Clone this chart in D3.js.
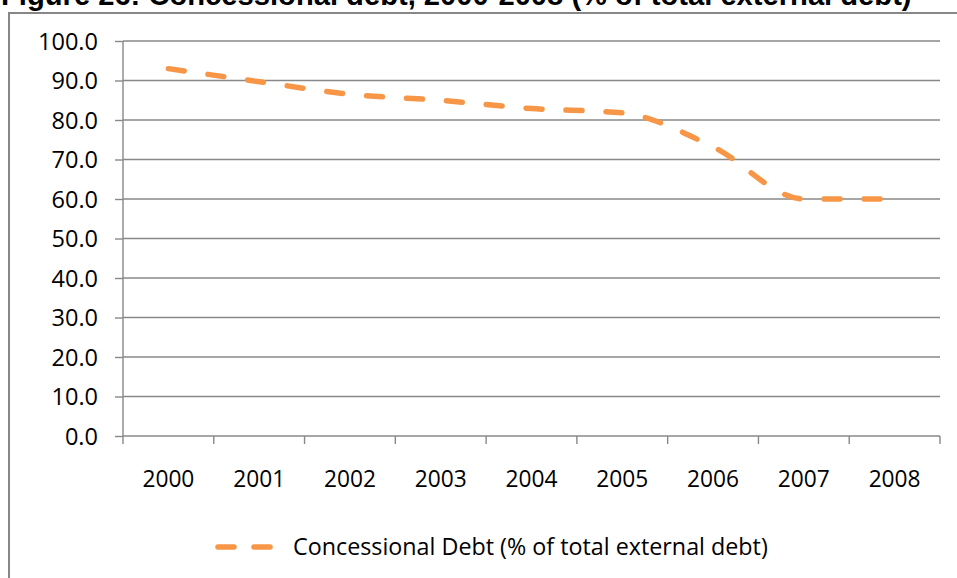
<!DOCTYPE html>
<html><head><meta charset="utf-8">
<script src="https://cdn.jsdelivr.net/npm/d3@7"></script>
<style>body{margin:0;background:#fff;overflow:hidden}svg{display:block}</style>
</head><body>
<script>
const titleText = "Figure 26: Concessional debt, 2000-2008 (% of total external debt)";
const years = ["2000","2001","2002","2003","2004","2005","2006","2007","2008"];
const concessional = [93.0, 89.7, 86.5, 85.0, 82.9, 81.8, 73.2, 60.0, 60.0];
const yTicks = [0,10,20,30,40,50,60,70,80,90,100];
const seriesName = "Concessional Debt (% of total external debt)";

const W = 957, H = 578;
const svg = d3.select("body").append("svg").attr("width", W).attr("height", H);
const font = "'Open Sans', 'Noto Sans', sans-serif";
const gridColor = "#888888";
const lineColor = "#F79646";

function fit(sel, target) {
  const n = sel.node();
  let fs = parseFloat(sel.attr("font-size"));
  const w = n.getComputedTextLength();
  sel.attr("font-size", (fs * target / w).toFixed(2));
}

// outer frame
svg.append("rect").attr("x", 9).attr("y", 13).attr("width", 1200).attr("height", 1200)
  .attr("fill", "none").attr("stroke", "#878787").attr("stroke-width", 2);

// title (clipped at the top edge as in the source)
const t = svg.append("text").attr("x", 1).attr("y", 4.5)
  .attr("font-family", "'Liberation Sans', Arial, sans-serif").attr("font-weight", "bold")
  .attr("font-size", 22).attr("fill", "#000").text(titleText);
fit(t, 911);

const m = {l: 123, r: 940, t: 41, b: 436};
const x = d3.scaleBand().domain(years).range([m.l, m.r]);
const y = d3.scaleLinear().domain([0, 100]).range([m.b, m.t]);

// gridlines
svg.append("g").selectAll("line").data(yTicks.filter(d => d > 0)).join("line")
  .attr("x1", m.l).attr("x2", m.r).attr("y1", d => y(d)).attr("y2", d => y(d))
  .attr("stroke", gridColor).attr("stroke-width", 1.4);

// y axis
const ya = svg.append("g").attr("transform", `translate(${m.l},0)`)
  .call(d3.axisLeft(y).tickValues(yTicks).tickFormat(d3.format(".1f")).tickSize(8).tickPadding(17));
ya.select(".domain").attr("stroke", gridColor).attr("stroke-width", 1.4).attr("d", `M0,${m.t}V${m.b}`);
ya.selectAll(".tick line").attr("stroke", gridColor).attr("stroke-width", 1.4);
ya.selectAll(".tick text").attr("font-family", font).attr("font-size", 22).attr("fill", "#000").attr("dy", "0.35em");

// x axis
const xa = svg.append("g").attr("transform", `translate(0,${m.b})`)
  .call(d3.axisBottom(x).tickSize(0).tickPadding(0));
xa.select(".domain").attr("stroke", gridColor).attr("stroke-width", 1.4).attr("d", `M${m.l},0H${m.r}`);
xa.selectAll(".tick text").attr("font-family", font).attr("font-size", 22).attr("fill", "#000")
  .attr("y", 51).attr("dy", 0);
// category boundary ticks
const bounds = years.map(d => x(d)).concat([x(years[years.length-1]) + x.bandwidth()]);
xa.append("g").selectAll("line").data(bounds).join("line")
  .attr("x1", d => d).attr("x2", d => d).attr("y1", 0).attr("y2", 8)
  .attr("stroke", gridColor).attr("stroke-width", 1.4);

// fit label sizes
const sample = ya.selectAll(".tick text").filter(d => d === 100);
fit(sample, 60);
ya.selectAll(".tick text").attr("font-size", sample.attr("font-size"));
const sx = xa.selectAll(".tick text").filter(d => d === "2000");
fit(sx, 52);
xa.selectAll(".tick text").attr("font-size", sx.attr("font-size"));

// line
const line = d3.line().x((d, i) => x(years[i]) + x.bandwidth() / 2).y(d => y(d))
  .curve(d3.curveMonotoneX);
svg.append("path").datum(concessional).attr("d", line).attr("fill", "none")
  .attr("stroke", lineColor).attr("stroke-width", 5.5).attr("stroke-linecap", "round")
  .attr("stroke-dasharray", "16,24");

// legend
const lg = svg.append("g");
lg.append("line").attr("x1", 218).attr("x2", 270).attr("y1", 547).attr("y2", 547)
  .attr("stroke", lineColor).attr("stroke-width", 5.5).attr("stroke-linecap", "round")
  .attr("stroke-dasharray", "16,20");
const lt = lg.append("text").attr("x", 293).attr("y", 555).attr("font-family", font)
  .attr("font-size", 22).attr("fill", "#000").text(seriesName);
fit(lt, 475);
</script>
</body></html>
